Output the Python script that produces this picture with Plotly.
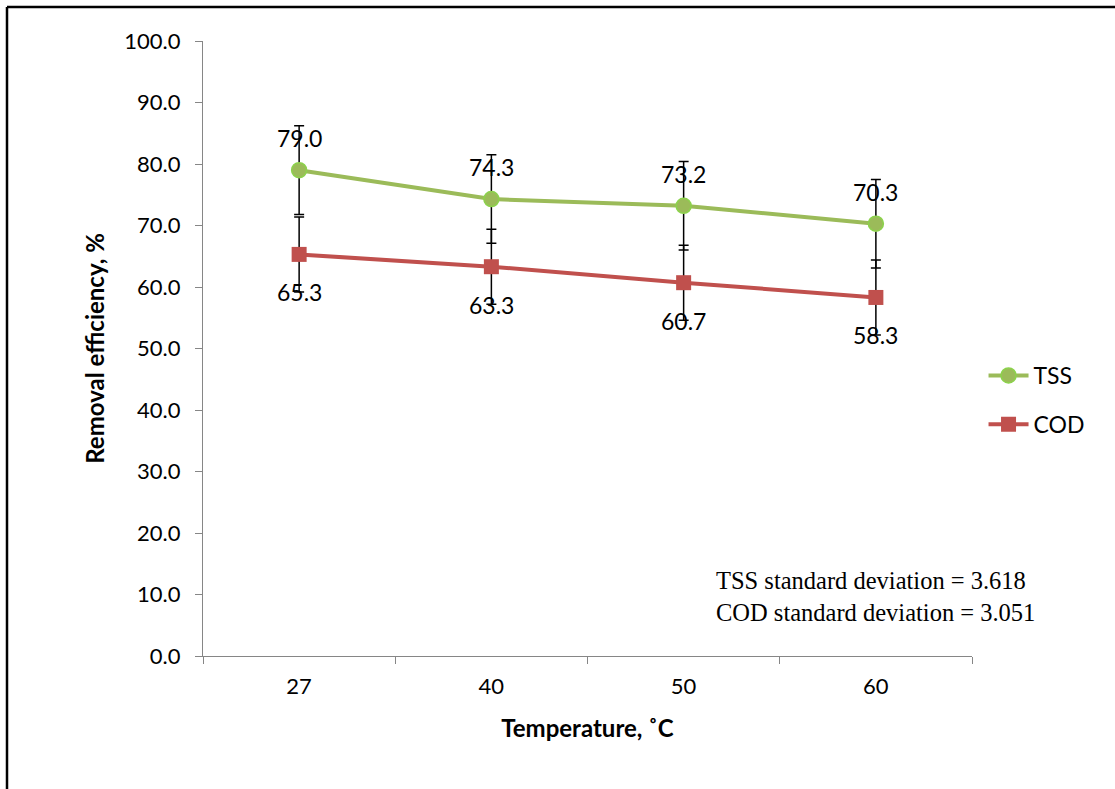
import plotly.graph_objects as go

temperatures = ["27", "40", "50", "60"]
tss = [79.0, 74.3, 73.2, 70.3]
cod = [65.3, 63.3, 60.7, 58.3]
tss_err = [7.2, 7.2, 7.2, 7.2]
cod_err = [6.1, 6.1, 6.1, 6.1]
tss_label = [f"{v:.1f}" for v in tss]
cod_label = [f"{v:.1f}" for v in cod]

FONT = "Lato"
fig = go.Figure()

fig.add_trace(go.Scatter(
    x=temperatures, y=tss, name="TSS", mode="lines+markers", legendgroup="a",
    line=dict(color="#9BBB59", width=4),
    marker=dict(symbol="circle", size=15, color="#9BBB59", line=dict(color="#8CD24C", width=1.5)),
    error_y=dict(type="data", array=tss_err, visible=True, color="black", thickness=1.5, width=5),
))
fig.add_trace(go.Scatter(
    x=temperatures, y=cod, name="COD", mode="lines+markers", legendgroup="b",
    line=dict(color="#C0504D", width=4),
    marker=dict(symbol="square", size=15, color="#C0504D"),
    error_y=dict(type="data", array=cod_err, visible=True, color="black", thickness=1.5, width=5),
))

annotations = []
for i, (y, t) in enumerate(zip(tss, tss_label)):
    annotations.append(dict(x=i, y=y, text=t, showarrow=False, yshift=32,
                            font=dict(family=FONT, size=23, color="black")))
for i, (y, t) in enumerate(zip(cod, cod_label)):
    annotations.append(dict(x=i, y=y, text=t, showarrow=False, yshift=-38,
                            font=dict(family=FONT, size=23, color="black")))
annotations.append(dict(xref="paper", yref="paper", x=(714 - 203) / 769, y=(656 - 580) / 615,
                        xanchor="left", yanchor="middle", showarrow=False, align="left",
                        text="TSS standard deviation = 3.618",
                        font=dict(family="Liberation Serif", size=24.5, color="black")))
annotations.append(dict(xref="paper", yref="paper", x=(714 - 203) / 769, y=(656 - 612) / 615,
                        xanchor="left", yanchor="middle", showarrow=False, align="left",
                        text="COD standard deviation = 3.051",
                        font=dict(family="Liberation Serif", size=24.5, color="black")))

fig.update_layout(
    width=1115, height=789,
    margin=dict(l=203, r=143, t=41, b=133, autoexpand=False),
    paper_bgcolor="white", plot_bgcolor="white",
    font=dict(family=FONT, size=22, color="black"),
    annotations=annotations,
    showlegend=True,
    legend=dict(x=1.015, y=(656 - 400) / 615, xanchor="left", yanchor="middle",
                font=dict(family=FONT, size=23), tracegroupgap=16, itemwidth=40,
                traceorder="grouped", bgcolor="rgba(0,0,0,0)"),
    shapes=[
        dict(type="line", xref="paper", yref="paper", x0=-196 / 769, x1=1.3, y0=(656 - 7) / 615, y1=(656 - 7) / 615,
             line=dict(color="black", width=2.5)),
        dict(type="line", xref="paper", yref="paper", x0=-196 / 769, x1=-196 / 769, y0=(656 - 7) / 615, y1=-0.3,
             line=dict(color="black", width=2.5)),
    ],
)
fig.update_xaxes(type="category", range=[-0.5, 3.5], showline=True, linecolor="#868686", linewidth=1.2,
                 ticks="outside", tickson="boundaries", ticklen=7, tickcolor="#868686",
                 showgrid=False, zeroline=False, automargin=False, tickangle=0,
                 ticklabelstandoff=10,
                 tickfont=dict(family=FONT, size=22),
                 title=dict(text="<b>Temperature, ˚C</b>", font=dict(family=FONT, size=24), standoff=22))
fig.update_yaxes(range=[0, 100], dtick=10, tickformat=".1f", showline=True, linecolor="#868686",
                 linewidth=1.2, ticks="outside", ticklen=7, tickcolor="#868686",
                 showgrid=False, zeroline=False, automargin=False,
                 ticklabelstandoff=10,
                 tickfont=dict(family=FONT, size=22),
                 title=dict(text="<b>Removal efficiency, %</b>", font=dict(family=FONT, size=24), standoff=12))

fig.write_html("out.html", config={"displayModeBar": False},
               post_script="document.body.style.margin='0';document.body.style.overflow='hidden';")
